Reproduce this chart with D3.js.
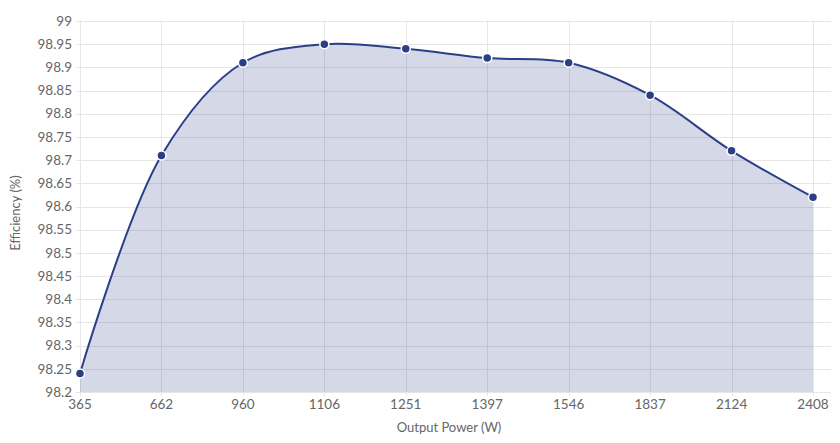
<!DOCTYPE html>
<html><head><meta charset="utf-8">
<script src="https://cdn.jsdelivr.net/npm/d3@7"></script>
<style>body{margin:0;background:#fff}svg{display:block}text{font-family:Lato,"Noto Sans",sans-serif}</style>
</head><body><svg id="c" width="840" height="443"></svg>
<script>
const categories = ["365","662","960","1106","1251","1397","1546","1837","2124","2408"];
const efficiency = [98.24,98.71,98.91,98.95,98.94,98.92,98.91,98.84,98.72,98.62];
const yTicks = [98.2,98.25,98.3,98.35,98.4,98.45,98.5,98.55,98.6,98.65,98.7,98.75,98.8,98.85,98.9,98.95,99];

(function(){
const svg = d3.select("#c");
const pL = 80, pR = 831, pT = 21, pB = 392, lastX = 813;
const x = d3.scalePoint().domain(categories).range([pL, lastX]);
const y = d3.scaleLinear().domain([98.2, 99]).range([pB, pT]);
const grid = "#e6e6e6", txt = "#666";

svg.append("g").selectAll("line").data(yTicks).join("line")
  .attr("x1", pL - 4).attr("x2", pR).attr("y1", d => Math.round(y(d)) + 0.5).attr("y2", d => Math.round(y(d)) + 0.5)
  .attr("stroke", grid).attr("stroke-width", 1);
svg.append("g").selectAll("line").data(categories).join("line")
  .attr("x1", d => Math.round(x(d)) + 0.5).attr("x2", d => Math.round(x(d)) + 0.5).attr("y1", pT - 1).attr("y2", pB + 4)
  .attr("stroke", grid).attr("stroke-width", 1);

const curve = d3.curveCatmullRom.alpha(0.5);
const pts = categories.map((c, i) => [c, efficiency[i]]);
svg.append("path").datum(pts)
  .attr("d", d3.area().x(d => x(d[0])).y0(pB).y1(d => y(d[1])).curve(curve))
  .attr("fill", "rgba(43,63,135,0.2)");
svg.append("path").datum(pts)
  .attr("d", d3.line().x(d => x(d[0])).y(d => y(d[1])).curve(curve))
  .attr("fill", "none").attr("stroke", "#2b3f87").attr("stroke-width", 2);
svg.append("g").selectAll("circle").data(pts).join("circle")
  .attr("cx", d => x(d[0])).attr("cy", d => y(d[1])).attr("r", 4.5)
  .attr("fill", "#2b3f87").attr("stroke", "#fff").attr("stroke-width", 1.5);

svg.append("g").selectAll("text").data(yTicks).join("text")
  .attr("x", pL - 8).attr("y", d => y(d)).attr("dy", "0.35em")
  .attr("text-anchor", "end").attr("font-size", 13.5).attr("fill", txt)
  .text(d => String(+d.toFixed(2)));
svg.append("g").selectAll("text").data(categories).join("text")
  .attr("x", d => x(d)).attr("y", pB + 17)
  .attr("text-anchor", "middle").attr("font-size", 13.5).attr("fill", txt).text(d => d);

svg.append("text").attr("x", 449).attr("y", 432)
  .attr("text-anchor", "middle").attr("font-size", 13).attr("fill", txt).text("Output Power (W)");
svg.append("text").attr("transform", `translate(20,213) rotate(-90)`)
  .attr("text-anchor", "middle").attr("font-size", 13).attr("fill", txt).text("Efficiency (%)");
})();
</script></body></html>
